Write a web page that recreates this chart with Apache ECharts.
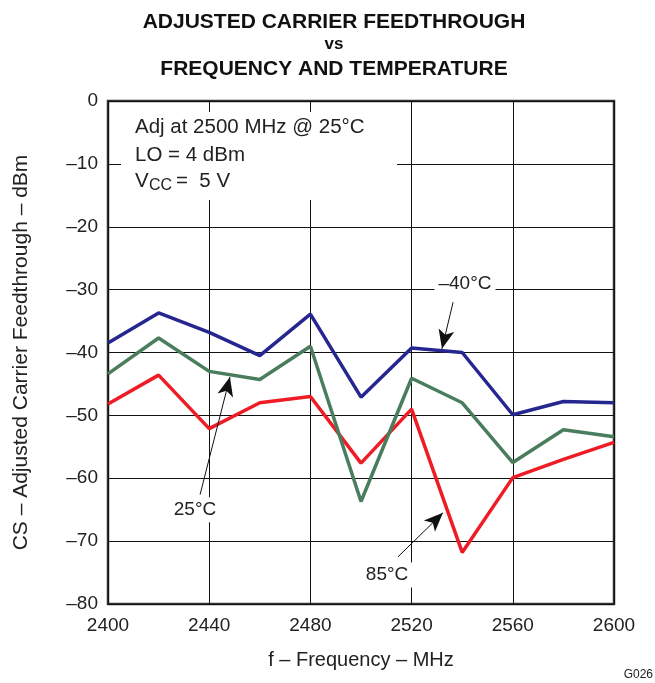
<!DOCTYPE html>
<html><head><meta charset="utf-8">
<script src="https://cdn.jsdelivr.net/npm/echarts@6/dist/echarts.min.js"></script>
<style>html,body{margin:0;padding:0;background:#fff}#c{width:655px;height:683px}</style>
</head><body><div id="c"></div>
<script>
// ---- data ----
const frequencies = [2400, 2420, 2440, 2460, 2480, 2500, 2520, 2540, 2560, 2580, 2600];
const cfMinus40C = [-38.5, -33.7, -36.8, -40.5, -33.9, -47.1, -39.3, -40.0, -49.9, -47.8, -48.0];
const cf25C      = [-43.4, -37.7, -43.0, -44.3, -39.0, -63.7, -44.1, -48.0, -57.5, -52.3, -53.4];
const cf85C      = [-48.2, -43.6, -52.1, -48.0, -47.0, -57.6, -49.0, -71.8, -59.9, -57.0, -54.3];
const xTicks = [2400, 2440, 2480, 2520, 2560, 2600];
const yTicks = [0, -10, -20, -30, -40, -50, -60, -70, -80];
const seriesLabels = ['–40°C', '25°C', '85°C'];
const titleLines = ['ADJUSTED CARRIER FEEDTHROUGH', 'vs', 'FREQUENCY AND TEMPERATURE'];

const FONT = "'Liberation Sans', Arial, Helvetica, sans-serif";
const pair = (xs, ys) => xs.map((x, i) => [x, ys[i]]);

const chart = echarts.init(document.getElementById('c'), null, {renderer: 'canvas'});

function note(text, at, from, to) {
  return {
    markPoint: {
      silent: true, symbol: 'rect', symbolSize: 0, animation: false,
      label: {show: true, position: 'inside', formatter: text, color: '#222', fontFamily: FONT,
              fontSize: 19, backgroundColor: '#fff', padding: [3, 4]},
      data: [{coord: at}]
    },
    markLine: {
      silent: true, animation: false, symbol: ['none', 'arrow'], symbolSize: [12, 19],
      lineStyle: {color: '#111', width: 1, type: 'solid'}, label: {show: false},
      emphasis: {disabled: true},
      data: [[{coord: from}, {coord: to}]]
    }
  };
}

const option = {
  animation: false,
  backgroundColor: '#fff',
  textStyle: {fontFamily: FONT},
  grid: {left: 108, right: 41, top: 101, bottom: 79, show: true, borderColor: '#333', borderWidth: 2.5, backgroundColor: 'transparent'},
  xAxis: {
    type: 'value', min: xTicks[0], max: xTicks[xTicks.length - 1], interval: 40,
    name: 'f – Frequency – MHz', nameLocation: 'middle', nameGap: 46,
    nameTextStyle: {fontFamily: FONT, fontSize: 20, color: '#222'},
    axisLine: {show: false}, axisTick: {show: false},
    axisLabel: {fontFamily: FONT, fontSize: 19, color: '#222', margin: 12, formatter: v => String(v)},
    splitLine: {show: true, lineStyle: {color: '#111', width: 1}}
  },
  yAxis: {
    type: 'value', min: yTicks[yTicks.length - 1], max: yTicks[0], interval: 10,
    name: 'CS – Adjusted Carrier Feedthrough – dBm', nameLocation: 'middle', nameGap: 76,
    nameTextStyle: {fontFamily: FONT, fontSize: 21, color: '#222'},
    axisLine: {show: false}, axisTick: {show: false},
    axisLabel: {fontFamily: FONT, fontSize: 19, color: '#222', margin: 10,
                formatter: v => v < 0 ? '–' + (-v) : String(v)},
    splitLine: {show: true, lineStyle: {color: '#111', width: 1}}
  },
  series: [
    Object.assign({type: 'line', name: seriesLabels[2], data: pair(frequencies, cf85C), showSymbol: false,
      lineStyle: {color: '#ee1c25', width: 3.5}, itemStyle: {color: '#ee1c25'}, z: 2},
      note(seriesLabels[2], [2510.3, -75.4], [2514.6, -72.5], [2532.4, -65.5])),
    Object.assign({type: 'line', name: seriesLabels[1], data: pair(frequencies, cf25C), showSymbol: false,
      lineStyle: {color: '#4a7c5e', width: 3.5}, itemStyle: {color: '#4a7c5e'}, z: 3},
      note(seriesLabels[1], [2434.4, -65.0], [2436.4, -62.6], [2448.2, -43.9])),
    Object.assign({type: 'line', name: seriesLabels[0], data: pair(frequencies, cfMinus40C), showSymbol: false,
      lineStyle: {color: '#262690', width: 3.5}, itemStyle: {color: '#262690'}, z: 4},
      note(seriesLabels[0], [2541.1, -29.1], [2536.4, -32.0], [2532.0, -39.4]))
  ],
  graphic: [
    {type: 'text', z: 101, x: 334, y: 22, style: {text: titleLines[0], font: 'bold 21px ' + FONT, fill: '#111', align: 'center', verticalAlign: 'middle'}},
    {type: 'text', z: 101, x: 334, y: 44, style: {text: titleLines[1], font: 'bold 17px ' + FONT, fill: '#111', align: 'center', verticalAlign: 'middle'}},
    {type: 'text', z: 101, x: 334, y: 69, style: {text: titleLines[2], font: 'bold 21px ' + FONT, fill: '#111', align: 'center', verticalAlign: 'middle'}},
    {type: 'rect', z: 100, shape: {x: 121, y: 112, width: 276, height: 88}, style: {fill: '#fff'}},
    {type: 'text', z: 101, left: 135, top: 117, style: {text: 'Adj at 2500 MHz @ 25°C', font: '20.5px ' + FONT, fill: '#222'}},
    {type: 'text', z: 101, left: 135, top: 145, style: {text: 'LO = 4 dBm', font: '20.5px ' + FONT, fill: '#222'}},
    {type: 'text', z: 101, left: 135, top: 171, style: {text: 'V', font: '20.5px ' + FONT, fill: '#222'}},
    {type: 'text', z: 101, left: 149, top: 178, style: {text: 'CC', font: '16px ' + FONT, fill: '#222'}},
    {type: 'text', z: 101, left: 176, top: 171, style: {text: '=  5 V', font: '20.5px ' + FONT, fill: '#222'}},
    {type: 'text', z: 101, right: 2, top: 669, style: {text: 'G026', font: '12px ' + FONT, fill: '#222'}}
  ]
};
chart.setOption(option);
</script>
</body></html>
